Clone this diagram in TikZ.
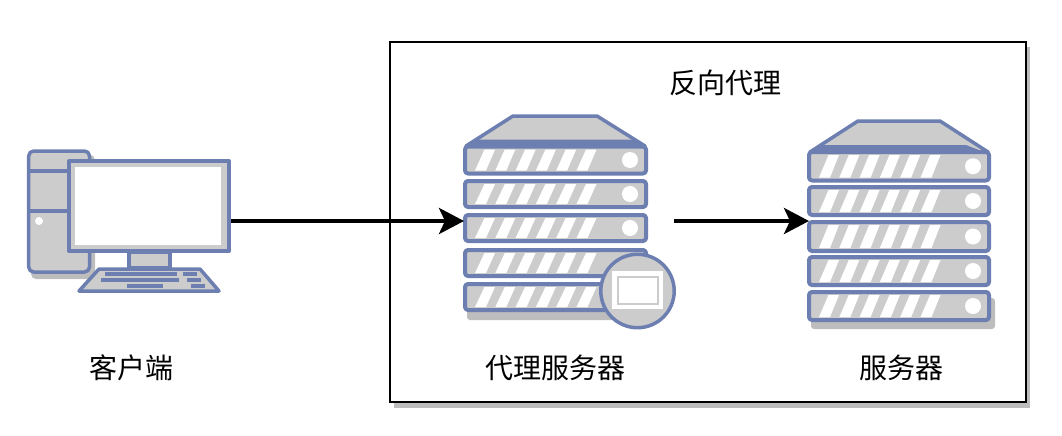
\documentclass[tikz,border=0pt]{standalone}
\usepackage{fontspec}
\setmainfont{Noto Sans CJK SC}
\usepackage{tikz}
\usetikzlibrary{arrows.meta}

\definecolor{iconblue}{HTML}{6C7FB0}
\definecolor{icongray}{HTML}{CCCCCC}
\definecolor{shadowgray}{HTML}{BDBDBD}

\tikzset{
	iconline/.style={draw=iconblue, fill=icongray, line width=3.5pt, line join=round},
	unitline/.style={iconline, line width=4pt, rounded corners=3pt},
	keybar/.style={fill=iconblue},
	flow/.style={line width=4pt, -{Stealth[length=25pt, width=26pt, inset=6pt]}},
	caption/.style={font=\fontsize{28}{30}\selectfont, inner sep=0pt}
}

% one slot of a rack: left, right, top, bottom
\newcommand{\rackunit}[4]{
	\draw[unitline] (#1,#3) rectangle (#2,#4);
	\foreach \n in {0,...,5}
		\fill[white] ({#1+10+20.3*\n},{#4-3}) -- ({#1+21+20.3*\n},{#4-3}) -- ({#1+30+20.3*\n},{#3+3}) -- ({#1+19.5+20.3*\n},{#3+3}) -- cycle;
	\fill[white] ({#2-16},{(#3+#4)/2}) circle (8pt);
}

\begin{document}
\begin{tikzpicture}[x=1pt, y=-1pt]
	\useasboundingbox (0,0) rectangle (1062,436);
	% box
	\fill[shadowgray] (394,47) rectangle (1030,408);
	\draw[line width=2pt, fill=white] (390,42) rectangle (1025.5,402);
	\node[caption] (reverse) at (725,83) {反向代理};

	% client
	\fill[shadowgray, rounded corners=5pt] (31,155) rectangle (95,279);
	\draw[iconline, rounded corners=5pt] (28.7,151) rectangle (89.5,272);
	\draw[iconline, fill=none] (28.7,171) -- (67,171);
	\draw[iconline, fill=none] (28.7,211) -- (67,211);
	\fill[white] (39,221) circle (4pt);
	\draw[iconline] (129,252) rectangle (170,268);
	\draw[iconline] (99,269) -- (200,269) -- (219,291) -- (79,291) -- cycle;
	\fill[keybar] (105,272) rectangle (177,276);
	\fill[keybar] (183,272) rectangle (197,276);
	\fill[keybar] (101,278) rectangle (179,282);
	\fill[keybar] (187,278) rectangle (201,282);
	\fill[keybar] (127,284) rectangle (163,288);
	\fill[keybar] (191,284) rectangle (205,288);
	\draw[iconline, line width=4pt] (69,161) rectangle (229,251);
	\fill[white] (75,167) rectangle (221,245);
	\node[caption] (client) at (131,368) {客户端};

	% proxy
	\fill[shadowgray, rounded corners=3pt] (467,290) rectangle (650,320);
	\draw[iconline] (466,146) -- (513,116) -- (597,116) -- (645,146) -- cycle;
	\fill[iconblue] (478,139.5) -- (633,139.5) -- (646,148) -- (465,148) -- cycle;
	\foreach \t/\b in {146.5/173.5, 181/207, 215/241, 250/276, 284/310}
		\rackunit{465}{646}{\t}{\b};
	\draw[iconline] (637.5,291) circle (36.7pt);
	\fill[white] (612,271) rectangle (663,309);
	\draw[draw=icongray, line width=2pt] (617.5,276.5) rectangle (657.5,304);
	\node[caption] (proxy) at (555,368) {代理服务器};

	% server
	\fill[shadowgray, rounded corners=3pt] (811,298) rectangle (995,329);
	\draw[iconline] (810,152) -- (858,121) -- (940,121) -- (988,152) -- cycle;
	\fill[iconblue] (823,145) -- (966,145) -- (989,154) -- (809,154) -- cycle;
	\foreach \t/\b in {152/180.5, 187/215, 222/251, 257/285, 292/320}
		\rackunit{809}{989}{\t}{\b};
	\node[caption] (server) at (901,368) {服务器};

	% connectors
	\coordinate (clientout) at (231,221);
	\coordinate (proxyin) at (464,221);
	\coordinate (proxyout) at (674,221);
	\coordinate (serverin) at (809,221);
	\draw[flow] (clientout) -- (proxyin);
	\draw[flow] (proxyout) -- (serverin);
\end{tikzpicture}
\end{document}
